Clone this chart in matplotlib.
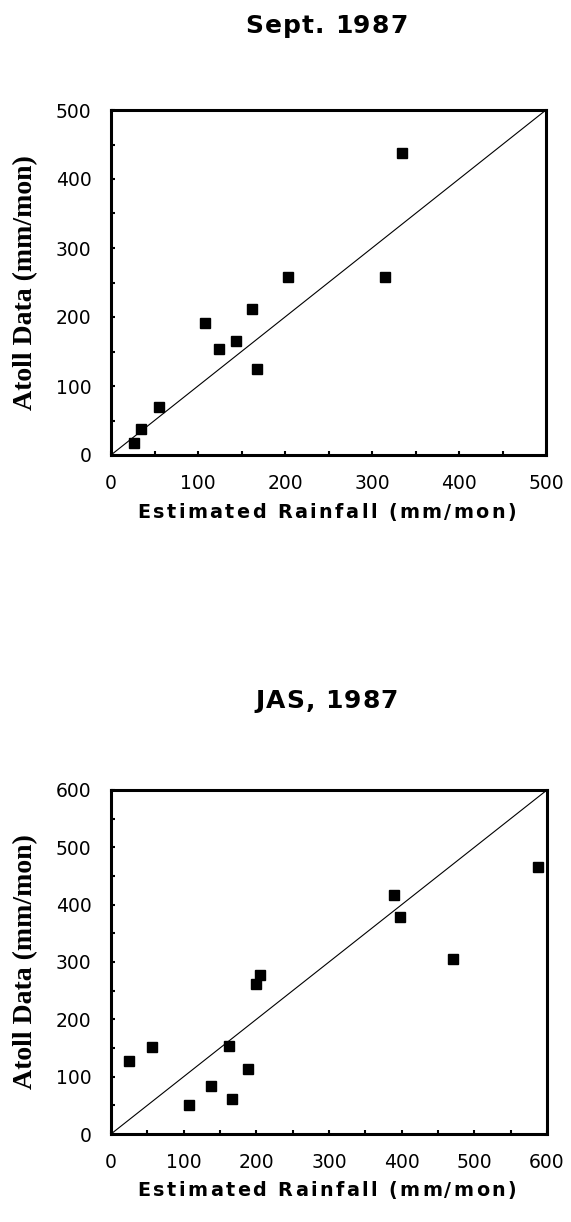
import matplotlib
matplotlib.use("Agg")
import matplotlib.pyplot as plt
from matplotlib.ticker import MultipleLocator
from matplotlib.font_manager import FontProperties

# Sept. 1987: estimated vs. atoll-observed monthly rainfall
sept_est = [26, 34, 55, 108, 124, 144, 162, 168, 204, 315, 335]
sept_obs = [17, 37, 69, 192, 154, 165, 211, 124, 258, 258, 437]

# July-Aug-Sept 1987 mean
jas_est = [25, 57, 107, 137, 163, 167, 189, 200, 205, 389, 398, 471, 587]
jas_obs = [127, 152, 50, 84, 154, 61, 113, 261, 278, 416, 378, 305, 465]

titles = ["Sept. 1987", "JAS, 1987"]
limits = [500, 600]
xlabel = "Estimated Rainfall (mm/mon)"
ylabel = "Atoll Data (mm/mon)"

W, H = 571, 1222
fig = plt.figure(figsize=(W / 100, H / 100), dpi=100)
renderer = fig.canvas.get_renderer()

tick_font = dict(family="DejaVu Sans", size=13.5)
label_prop = FontProperties(family="DejaVu Sans", size=13.8, weight="bold")
ylabel_font = dict(family="Liberation Serif", size=20, weight="bold")
title_prop = FontProperties(family="DejaVu Sans", size=18, weight="bold")


def text_width(s, prop):
    # advance width in pixels, bracketed so spaces count
    w, _, _ = renderer.get_text_width_height_descent("|" + s + "|", prop, ismath=False)
    w0, _, _ = renderer.get_text_width_height_descent("||", prop, ismath=False)
    return w - w0


def tracked_text(cx, baseline, s, prop, track):
    """Draw a letter-spaced string centred at cx (pixels) on a baseline (pixels)."""
    adv = [text_width(c, prop) for c in s]
    total = sum(adv) + track * (len(s) - 1)
    x = cx - total / 2
    for c, a in zip(s, adv):
        if c != " ":
            fig.text(x / W, 1 - baseline / H, c, ha="left", va="baseline",
                     fontproperties=prop)
        x += a + track


# axes boxes in pixels: left, top, right, bottom
boxes = [(111, 110, 546, 455), (111, 790, 547, 1134)]
title_base = [33, 708]
xlabel_base = [518, 1196]

panels = [(sept_est, sept_obs), (jas_est, jas_obs)]

for (x, y), lim, title, box, tb, xb in zip(panels, limits, titles, boxes,
                                          title_base, xlabel_base):
    l, t, r, b = box
    ax = fig.add_axes([l / W, 1 - b / H, (r - l) / W, (b - t) / H])
    ax.set_xlim(0, lim)
    ax.set_ylim(0, lim)
    ax.plot([0, lim], [0, lim], color="black", lw=0.8)
    ax.plot(x, y, linestyle="none", marker="s", ms=6.5, color="black")

    ax.xaxis.set_major_locator(MultipleLocator(100))
    ax.yaxis.set_major_locator(MultipleLocator(100))
    ax.xaxis.set_minor_locator(MultipleLocator(50))
    ax.yaxis.set_minor_locator(MultipleLocator(50))
    ax.tick_params(which="both", direction="in", length=3, width=1.5,
                   top=False, right=False, color="black")
    ax.tick_params(axis="x", pad=14)
    ax.tick_params(axis="y", pad=14)
    for lab in ax.get_xticklabels() + ax.get_yticklabels():
        lab.set_fontfamily(tick_font["family"])
        lab.set_fontsize(tick_font["size"])
    for sp in ax.spines.values():
        sp.set_linewidth(2.2)

    ax.set_ylabel(ylabel, **ylabel_font)
    ax.yaxis.set_label_coords(-(l - 26) / (r - l), 0.5)
    ax.yaxis.label.set_va("center")

    cx = (l + r) / 2
    tracked_text(cx - 2, xb, xlabel, label_prop, 2.4)
    tracked_text(cx - 2, tb, title, title_prop, 1.0)

fig.savefig("out.png", dpi=100)
